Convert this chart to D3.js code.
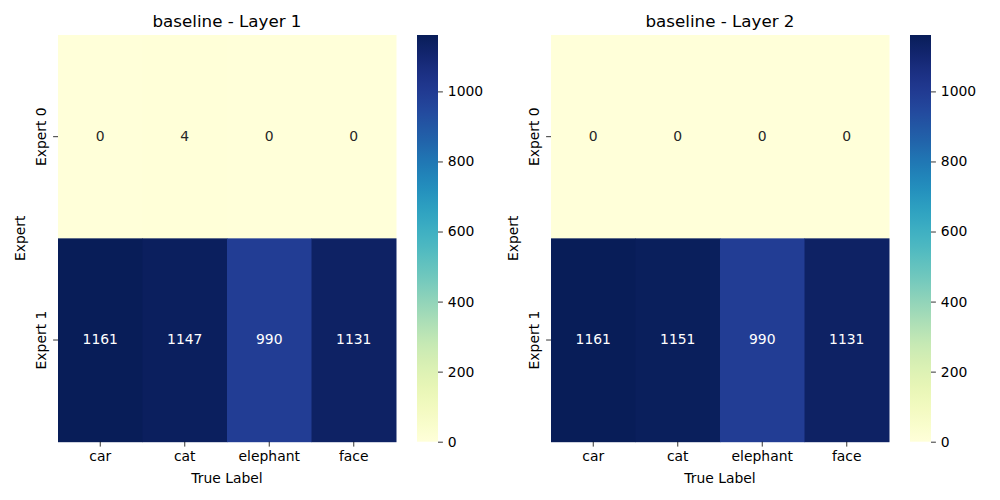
<!DOCTYPE html>
<html>
<head>
<meta charset="utf-8">
<script src="https://cdn.jsdelivr.net/npm/d3@7"></script>
<style>
  body { margin: 0; background: #fff; }
  svg text { font-family: "DejaVu Sans", sans-serif; }
</style>
</head>
<body>
<svg id="chart" width="1000" height="500"></svg>
<script>
const labels = ["car", "cat", "elephant", "face"]
const experts = ["Expert 0", "Expert 1"]
const titles = ["baseline - Layer 1", "baseline - Layer 2"]
const layer1 = [[0, 4, 0, 0], [1161, 1147, 990, 1131]]
const layer2 = [[0, 0, 0, 0], [1161, 1151, 990, 1131]]
const cbarTicks = [0, 200, 400, 600, 800, 1000]

const svg = d3.select("#chart")
const marginTop = 35, height = 406.7, width = 338
const panels = [
  { x: 58, data: layer1, title: titles[0] },
  { x: 551, data: layer2, title: titles[1] }
]

// seaborn-style text colour on a cell
function textColor(c) {
  const rgb = d3.rgb(c)
  const lin = v => { v /= 255; return v <= 0.03928 ? v / 12.92 : Math.pow((v + 0.055) / 1.055, 2.4) }
  const lum = 0.2126 * lin(rgb.r) + 0.7152 * lin(rgb.g) + 0.0722 * lin(rgb.b)
  return lum > 0.408 ? "#262626" : "#fff"
}

panels.forEach((p, pi) => {
  const vmax = d3.max(p.data.flat())
  const color = d3.scaleSequential(d3.interpolateYlGnBu).domain([0, vmax])

  const x = d3.scaleBand().domain(labels).range([0, width])
  const y = d3.scaleBand().domain(experts).range([0, height])

  const g = svg.append("g").attr("transform", `translate(${p.x},${marginTop})`)

  const cells = p.data.flatMap((row, ri) => row.map((v, ci) => ({ expert: experts[ri], label: labels[ci], value: v })))

  g.selectAll("rect.cell")
    .data(cells)
    .enter().append("rect")
    .attr("class", "cell")
    .attr("x", d => x(d.label))
    .attr("y", d => y(d.expert))
    .attr("width", x.bandwidth() + 0.5)
    .attr("height", y.bandwidth() + 0.5)
    .attr("fill", d => color(d.value))

  g.selectAll("text.annot")
    .data(cells)
    .enter().append("text")
    .attr("class", "annot")
    .attr("x", d => x(d.label) + x.bandwidth() / 2)
    .attr("y", d => y(d.expert) + y.bandwidth() / 2)
    .attr("dy", "0.3em")
    .attr("text-anchor", "middle")
    .style("font-size", "13.9px")
    .attr("fill", d => textColor(color(d.value)))
    .text(d => d.value)

  // x axis
  const xAxis = g.append("g")
    .attr("transform", `translate(0,${height})`)
    .call(d3.axisBottom(x).tickSize(4.9).tickPadding(4.9))
  xAxis.attr("font-family", null).attr("font-size", null)
  xAxis.select(".domain").remove()
  xAxis.selectAll("text").style("font-size", "13.9px").attr("fill", "#000")
  xAxis.selectAll("line").attr("stroke", "#000").attr("stroke-width", 0.8)

  // y axis
  const yAxis = g.append("g")
    .call(d3.axisLeft(y).tickSize(4.9).tickPadding(4.9))
  yAxis.attr("font-family", null).attr("font-size", null)
  yAxis.select(".domain").remove()
  yAxis.selectAll("line").attr("stroke", "#000").attr("stroke-width", 0.8)
  yAxis.selectAll("text")
    .style("font-size", "13.9px")
    .attr("fill", "#000")
    .attr("text-anchor", "middle")
    .attr("transform", "translate(-17,0) rotate(-90)")
    .attr("x", 0)
    .attr("dy", "0.35em")

  // axis titles and panel title
  g.append("text")
    .attr("x", width / 2)
    .attr("y", height + 41)
    .attr("text-anchor", "middle")
    .style("font-size", "13.9px")
    .text("True Label")

  g.append("text")
    .attr("transform", `translate(-33,${height / 2}) rotate(-90)`)
    .attr("text-anchor", "middle")
    .style("font-size", "13.9px")
    .text("Expert")

  g.append("text")
    .attr("x", width / 2)
    .attr("y", -8)
    .attr("text-anchor", "middle")
    .style("font-size", "16.7px")
    .text(p.title)

  // colorbar
  const cbX = width + 21, cbW = 21
  const cy = d3.scaleLinear().domain([0, vmax]).range([height, 0])
  const gradId = "grad" + pi
  const grad = svg.append("defs").append("linearGradient")
    .attr("id", gradId)
    .attr("x1", 0).attr("y1", 1).attr("x2", 0).attr("y2", 0)
  d3.range(0, 1.0001, 0.02).forEach(t => {
    grad.append("stop").attr("offset", t).attr("stop-color", color(t * vmax))
  })
  const cb = g.append("g").attr("transform", `translate(${cbX},0)`)
  cb.append("rect")
    .attr("width", cbW)
    .attr("height", height)
    .attr("fill", `url(#${gradId})`)
  const cAxis = cb.append("g")
    .attr("transform", `translate(${cbW},0)`)
    .call(d3.axisRight(cy).tickValues(cbarTicks).tickFormat(d3.format("d")).tickSize(4.9).tickPadding(4.9))
  cAxis.attr("font-family", null).attr("font-size", null)
  cAxis.select(".domain").remove()
  cAxis.selectAll("text").style("font-size", "13.9px").attr("fill", "#000")
  cAxis.selectAll("line").attr("stroke", "#000").attr("stroke-width", 0.8)
})
</script>
</body>
</html>
